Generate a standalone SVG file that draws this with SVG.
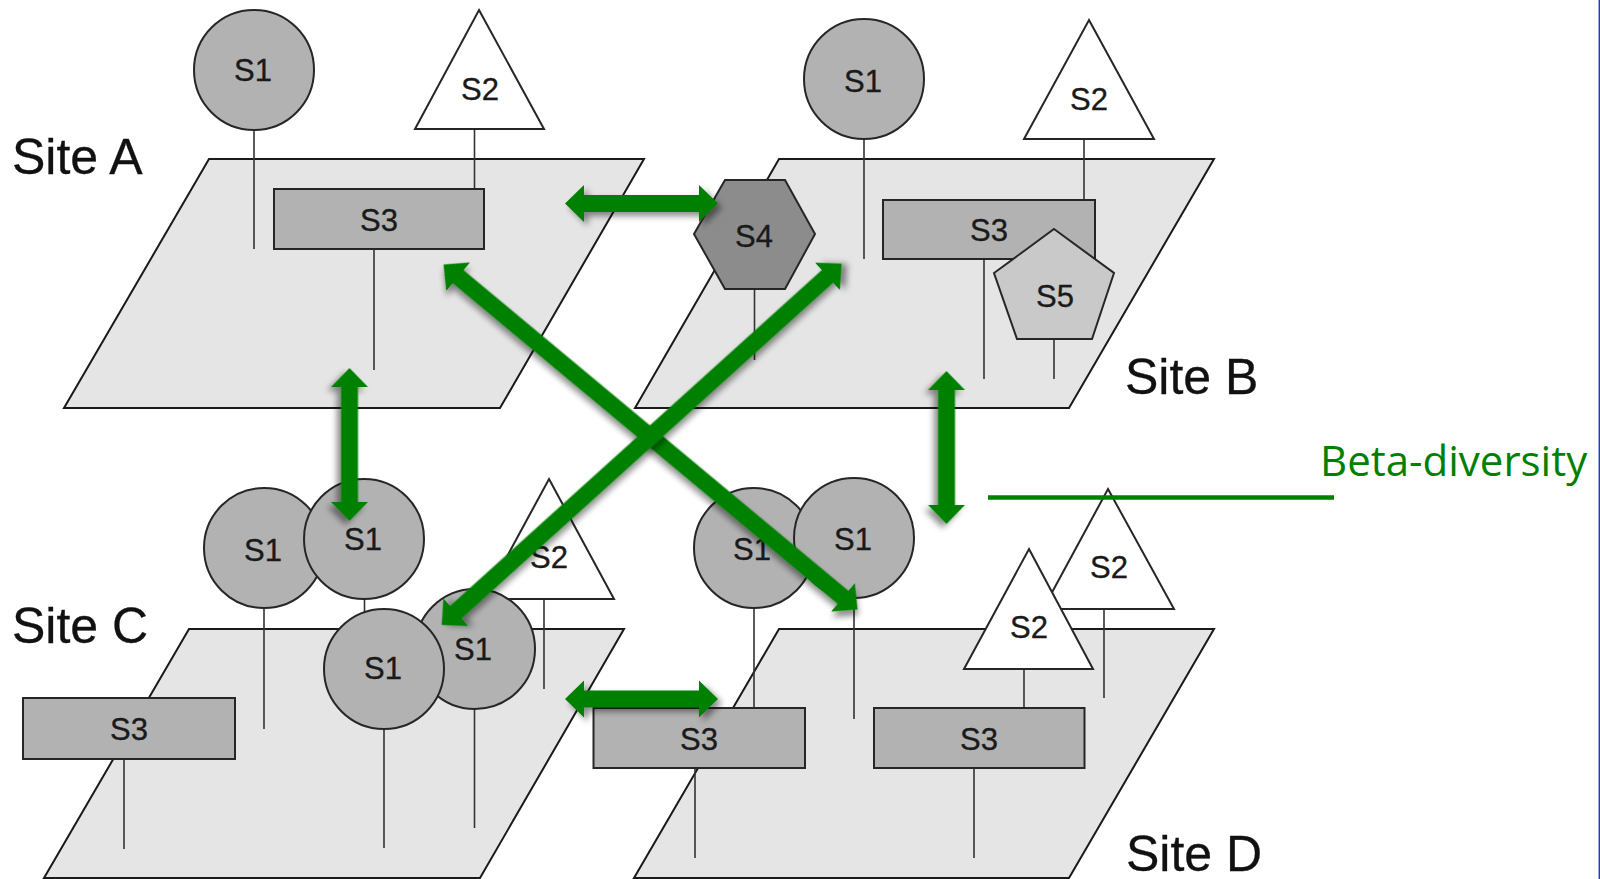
<svg xmlns="http://www.w3.org/2000/svg" xmlns:xlink="http://www.w3.org/1999/xlink" width="1600" height="879" viewBox="0 0 1600 879">
<style>
.plane{fill:#e5e5e5;stroke:#1a1a1a;stroke-width:2}
.s1{fill:#b2b2b2;stroke:#262626;stroke-width:2}
.s2{fill:#ffffff;stroke:#262626;stroke-width:2}
.s3{fill:#b2b2b2;stroke:#262626;stroke-width:2}
.s4{fill:#8c8c8c;stroke:#262626;stroke-width:2}
.s5{fill:#c9c9c9;stroke:#262626;stroke-width:2}
.stem{stroke:#333333;stroke-width:1.6;fill:none}
.lbl{font-family:"Liberation Sans",Arial,sans-serif;font-size:31px;fill:#1a1a1a;stroke:#1a1a1a;stroke-width:0.35;text-anchor:middle}
.site{font-family:"Liberation Sans",Arial,sans-serif;font-size:50px;fill:#111111;stroke:#111111;stroke-width:0.3}
.arrow{fill:#008000;filter:url(#shadow)}
</style>
<defs>
<filter id="shadow" x="-20%" y="-60%" width="140%" height="220%">
<feDropShadow dx="4" dy="4" stdDeviation="3" flood-color="#000000" flood-opacity="0.45"/>
</filter>
<path id="dblShort" d="M0,0 L19,-18.5 L19,-8.5 L134,-8.5 L134,-18.5 L153,0 L134,18.5 L134,8.5 L19,8.5 L19,18.5 Z"/>
<path id="dblLong" d="M0,0 L19,-18.5 L19,-8.5 L520,-8.5 L520,-18.5 L539,0 L520,18.5 L520,8.5 L19,8.5 L19,18.5 Z"/>
</defs>
<rect x="0" y="0" width="1600" height="879" fill="#ffffff"/>
<line x1="1599.3" y1="0" x2="1599.3" y2="879" stroke="#2040c0" stroke-width="1.5"/>

<!-- Site A -->
<g id="site-a">
<polygon class="plane" points="209,159 644,159 500,408 64,408"/>
<text class="site" x="12" y="174">Site A</text>
</g>
<g id="a-s1">
<line class="stem" x1="254" y1="130" x2="254" y2="249"/>
<circle class="s1" cx="254" cy="70" r="60"/>
<text class="lbl" x="253" y="81">S1</text>
</g>
<g id="a-s2">
<line class="stem" x1="474.5" y1="129" x2="474.5" y2="189"/>
<polygon class="s2" points="479,10 544,129 415,129"/>
<text class="lbl" x="480" y="100">S2</text>
</g>
<g id="a-s3">
<line class="stem" x1="374" y1="249" x2="374" y2="370"/>
<rect class="s3" x="274" y="189" width="210" height="60"/>
<text class="lbl" x="379" y="231">S3</text>
</g>

<!-- Site B -->
<g id="site-b">
<polygon class="plane" points="779,159 1214,159 1069,408 635,408"/>
<text class="site" x="1125" y="394">Site B</text>
</g>
<g id="b-s1">
<line class="stem" x1="864" y1="139" x2="864" y2="259"/>
<circle class="s1" cx="864" cy="79" r="60"/>
<text class="lbl" x="863" y="92">S1</text>
</g>
<g id="b-s2">
<line class="stem" x1="1084" y1="139" x2="1084" y2="200"/>
<polygon class="s2" points="1089,20 1154,139 1024,139"/>
<text class="lbl" x="1089" y="110">S2</text>
</g>
<g id="b-s3">
<line class="stem" x1="984" y1="259" x2="984" y2="379"/>
<rect class="s3" x="883" y="200" width="212" height="59"/>
<text class="lbl" x="989" y="241">S3</text>
</g>
<g id="b-s5">
<line class="stem" x1="1054" y1="339" x2="1054" y2="379"/>
<polygon class="s5" points="1054,229 1114,273 1092,339 1017,339 994,273"/>
<text class="lbl" x="1055" y="307">S5</text>
</g>
<g id="b-s4">
<line class="stem" x1="754.5" y1="289" x2="754.5" y2="360"/>
<polygon class="s4" points="725,180 785,180 815,234 785,289 725,289 694,234"/>
<text class="lbl" x="754" y="247">S4</text>
</g>

<!-- Site C -->
<g id="site-c">
<polygon class="plane" points="189,629 624,629 480,878 44,878"/>
<text class="site" x="12" y="643">Site C</text>
</g>
<g id="c-s3">
<line class="stem" x1="124" y1="759" x2="124" y2="849"/>
<rect class="s3" x="23" y="698" width="212" height="61"/>
<text class="lbl" x="129" y="740">S3</text>
</g>
<g id="c-s1a">
<line class="stem" x1="264" y1="608" x2="264" y2="729"/>
<circle class="s1" cx="264" cy="548" r="60"/>
<text class="lbl" x="263" y="561">S1</text>
</g>
<g id="c-s1b">
<line class="stem" x1="364.5" y1="598" x2="364.5" y2="680"/>
<circle class="s1" cx="364" cy="539" r="60"/>
<text class="lbl" x="363" y="550">S1</text>
</g>
<g id="c-s2">
<line class="stem" x1="544" y1="599" x2="544" y2="689"/>
<polygon class="s2" points="549,479 614,599 484,599"/>
<text class="lbl" x="549" y="568">S2</text>
</g>
<g id="c-s1d">
<line class="stem" x1="474.5" y1="708" x2="474.5" y2="828"/>
<circle class="s1" cx="475" cy="649" r="60"/>
<text class="lbl" x="473" y="660">S1</text>
</g>
<g id="c-s1c">
<line class="stem" x1="384" y1="728" x2="384" y2="848"/>
<circle class="s1" cx="384" cy="669" r="60"/>
<text class="lbl" x="383" y="679">S1</text>
</g>

<!-- Site D -->
<g id="site-d">
<polygon class="plane" points="779,629 1214,629 1069,878 634,878"/>
<text class="site" x="1126" y="871">Site D</text>
</g>
<g id="d-s1a">
<line class="stem" x1="754" y1="608" x2="754" y2="708"/>
<circle class="s1" cx="754" cy="548" r="60"/>
<text class="lbl" x="752" y="560">S1</text>
</g>
<g id="d-s1b">
<line class="stem" x1="854" y1="598" x2="854" y2="719"/>
<circle class="s1" cx="854" cy="538" r="60"/>
<text class="lbl" x="853" y="550">S1</text>
</g>
<g id="d-s2b">
<line class="stem" x1="1104" y1="609" x2="1104" y2="698"/>
<polygon class="s2" points="1108,489 1174,609 1043,609"/>
<text class="lbl" x="1109" y="578">S2</text>
</g>
<g id="d-s2a">
<line class="stem" x1="1024" y1="669" x2="1024" y2="708"/>
<polygon class="s2" points="1029,549 1093,669 964,669"/>
<text class="lbl" x="1029" y="638">S2</text>
</g>
<g id="d-s3a">
<line class="stem" x1="695" y1="768" x2="695" y2="858"/>
<rect class="s3" x="593.5" y="708" width="211.5" height="60"/>
<text class="lbl" x="699" y="750">S3</text>
</g>
<g id="d-s3b">
<line class="stem" x1="974" y1="768" x2="974" y2="858"/>
<rect class="s3" x="874" y="708" width="210.5" height="60"/>
<text class="lbl" x="979" y="750">S3</text>
</g>

<!-- Connectors -->
<g id="connectors">
<use xlink:href="#dblShort" href="#dblShort" class="arrow" transform="translate(565,203.5)"/>
<use xlink:href="#dblShort" href="#dblShort" class="arrow" transform="translate(565,699)"/>
<use xlink:href="#dblShort" href="#dblShort" class="arrow" transform="translate(349.5,368) rotate(90)"/>
<use xlink:href="#dblShort" href="#dblShort" class="arrow" transform="translate(946.5,371) rotate(90)"/>
<use xlink:href="#dblLong" href="#dblLong" class="arrow" transform="translate(443.5,264.5) rotate(39.8)"/>
<use xlink:href="#dblLong" href="#dblLong" class="arrow" transform="translate(441.7,625) rotate(-42.1)"/>
</g>

<g id="beta-label">
<line x1="988" y1="497.5" x2="1334" y2="497.5" stroke="#008000" stroke-width="4.5"/>
<text x="1320" y="476" font-family="'Open Sans','Noto Sans',sans-serif" font-size="42" fill="#008000">Beta-diversity</text>
</g>
</svg>
